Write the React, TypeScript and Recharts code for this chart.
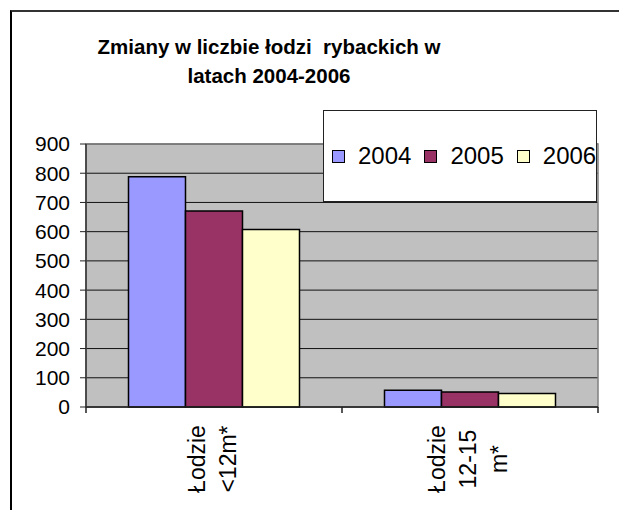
import React from "react";
import {
  BarChart,
  Bar,
  XAxis,
  YAxis,
  CartesianGrid,
  Legend,
  ReferenceArea,
} from "recharts";

const categories = ["Łodzie <12m*", "Łodzie 12-15 m*"];
const values2004 = [788, 57];
const values2005 = [671, 51];
const values2006 = [607, 46];
const yTicks = [0, 100, 200, 300, 400, 500, 600, 700, 800, 900];
const series = [
  { key: "2004", name: "2004", color: "#9999FF", values: values2004 },
  { key: "2005", name: "2005", color: "#993366", values: values2005 },
  { key: "2006", name: "2006", color: "#FFFFCC", values: values2006 },
];
const titleLines = ["Zmiany w liczbie łodzi  rybackich w", "latach 2004-2006"];

const data = categories.map((c, i) => {
  const row: Record<string, string | number> = { category: c };
  series.forEach((s) => {
    row[s.key] = s.values[i];
  });
  return row;
});

const FONT = "'Liberation Sans', Arial, sans-serif";

const CategoryTick = (props: any) => {
  const { x, y, payload, index, visibleTicksCount } = props;
  const half = payload && payload.offset ? payload.offset : 0;
  const lines = String(payload.value).split(" ");
  const fs = 23;
  const lh = 31;
  const n = lines.length;
  const cy = y + 52;
  const isLast = index === (visibleTicksCount ?? categories.length) - 1;
  return (
    <g>
      <line x1={x - half} x2={x - half} y1={y} y2={y + 6} stroke="#222" strokeWidth={1.5} />
      {isLast && (
        <line x1={x + half} x2={x + half} y1={y} y2={y + 6} stroke="#222" strokeWidth={1.5} />
      )}
      {lines.map((ln, i) => {
        const colX = x - 2 - ((n - 1) / 2) * lh + i * lh + fs * 0.36;
        return (
          <text
            key={i}
            x={colX}
            y={cy}
            transform={`rotate(-90, ${colX}, ${cy})`}
            textAnchor="middle"
            fontSize={fs}
            fontFamily={FONT}
            fill="#000"
          >
            {ln}
          </text>
        );
      })}
    </g>
  );
};

const LegendContent = (props: any) => {
  const payload = props.payload || [];
  return (
    <div
      style={{
        boxSizing: "border-box",
        width: 274,
        height: 92,
        background: "#fff",
        border: "1px solid #222",
        display: "flex",
        alignItems: "center",
        paddingLeft: 8,
        fontFamily: FONT,
        fontSize: 24,
        color: "#000",
      }}
    >
      {payload.map((p: any, i: number) => (
        <div
          key={i}
          style={{ display: "flex", alignItems: "center", marginRight: 13 }}
        >
          <div
            style={{
              boxSizing: "border-box",
              width: 13,
              height: 13,
              background: p.color,
              border: "1px solid #000",
              marginRight: 13,
            }}
          />
          <span style={{ lineHeight: "28px" }}>{p.value}</span>
        </div>
      ))}
    </div>
  );
};

export default function App() {
  return (
    <div
      style={{
        position: "absolute",
        left: 0,
        top: 0,
        width: 619,
        height: 510,
        overflow: "hidden",
        background: "#fff",
      }}
    >
      <div
        style={{
          position: "absolute",
          left: 10,
          top: 10,
          width: 800,
          height: 800,
          borderLeft: "2px solid #000",
          borderTop: "2px solid #333",
        }}
      />
      <div
        style={{
          position: "absolute",
          left: 0,
          top: 32,
          width: 538,
          textAlign: "center",
          fontFamily: FONT,
          fontWeight: "bold",
          fontSize: 20.5,
          lineHeight: "29px",
          whiteSpace: "pre",
          color: "#000",
        }}
      >
        {titleLines.map((t, i) => (
          <div key={i}>{t}</div>
        ))}
      </div>
      <div style={{ position: "absolute", left: 0, top: 0 }}>
        <BarChart
          width={619}
          height={510}
          data={data}
          margin={{ top: 144, right: 21, bottom: 7, left: 0 }}
          barCategoryGap="16.6%"
          barGap={0}
        >
          <CartesianGrid
            vertical={false}
            stroke="#111"
            fill="#C0C0C0"
            fillOpacity={1}
          />
          <ReferenceArea
            x1={categories[0]}
            x2={categories[categories.length - 1]}
            y1={yTicks[0]}
            y2={yTicks[yTicks.length - 1]}
            fill="none"
            fillOpacity={0}
            stroke="#808080"
            strokeWidth={1.5}
            ifOverflow="visible"
          />
          <XAxis
            dataKey="category"
            height={96}
            tickLine={false}
            axisLine={{ stroke: "#222", strokeWidth: 1.5 }}
            tickSize={0}
            tickMargin={0}
            interval={0}
            tick={<CategoryTick />}
          />
          <YAxis
            width={86}
            domain={[0, 900]}
            ticks={yTicks}
            interval={0}
            tickSize={6}
            tickMargin={10}
            axisLine={{ stroke: "#333", strokeWidth: 1.5 }}
            tickLine={{ stroke: "#222" }}
            tick={{ fontSize: 21, fontFamily: FONT, fill: "#000" }}
          />
          <Legend
            layout="vertical"
            align="center"
            verticalAlign="middle"
            wrapperStyle={{
              position: "absolute",
              left: 323,
              top: 110,
              width: 274,
              height: 92,
            }}
            content={<LegendContent />}
          />
          {series.map((s) => (
            <Bar
              key={s.key}
              dataKey={s.key}
              name={s.name}
              fill={s.color}
              stroke="#000"
              strokeWidth={1.5}
              isAnimationActive={false}
            />
          ))}
        </BarChart>
      </div>
    </div>
  );
}
